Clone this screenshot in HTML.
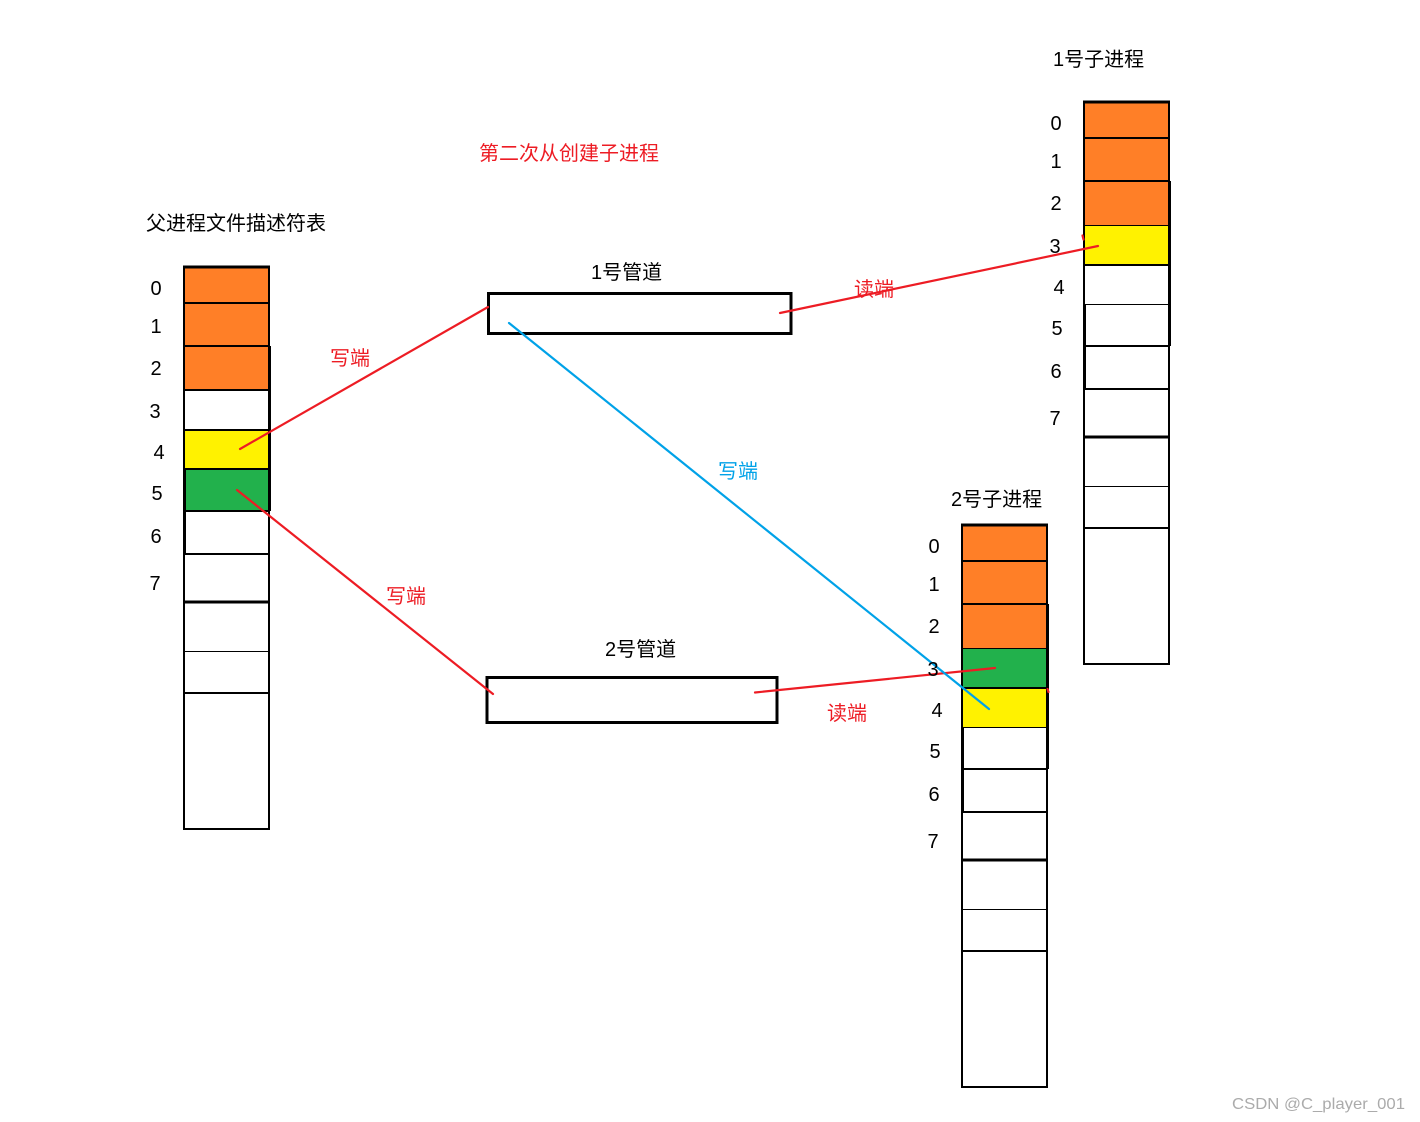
<!DOCTYPE html>
<html>
<head>
<meta charset="utf-8">
<style>
  html, body { margin: 0; padding: 0; background: #ffffff; }
  body { width: 1420px; height: 1122px; overflow: hidden; }
  svg { display: block; }
  .t { font-family: "Liberation Sans", "Noto Sans CJK SC", sans-serif; font-size: 20px; fill: #000; }
  .d { font-family: "Liberation Sans", "Noto Sans CJK SC", sans-serif; font-size: 20px; fill: #000; text-anchor: middle; }
  .r { fill: #ED1C24; }
  .b { fill: #00A2E8; }
</style>
</head>
<body>
<svg width="1420" height="1122" viewBox="0 0 1420 1122" xmlns="http://www.w3.org/2000/svg">
  <rect x="0" y="0" width="1420" height="1122" fill="#ffffff"/>

  <!-- ===== Left table (parent) ===== -->
  <g transform="translate(184,267)" shape-rendering="crispEdges">
    <rect x="0" y="0" width="85" height="36" fill="#FF7F27"/>
    <rect x="0" y="36" width="85" height="43" fill="#FF7F27"/>
    <rect x="0" y="79" width="85" height="44" fill="#FF7F27"/>
    <rect x="0" y="163" width="85" height="39" fill="#FFF200"/>
    <rect x="0" y="202" width="85" height="42" fill="#22B14C"/>
    <g stroke="#000" stroke-width="2">
      <line x1="0" y1="36" x2="85" y2="36"/>
      <line x1="0" y1="79" x2="86" y2="79"/>
      <line x1="0" y1="123" x2="85" y2="123"/>
      <line x1="0" y1="163" x2="85" y2="163"/>
      <line x1="0" y1="202" x2="86" y2="202"/>
      <line x1="0" y1="244" x2="86" y2="244"/>
      <line x1="0" y1="287" x2="85" y2="287"/>
      <line x1="0" y1="426" x2="85" y2="426"/>
      <line x1="86" y1="79" x2="86" y2="244"/>
    </g>
    <line x1="1.5" y1="202" x2="1.5" y2="287" stroke="#000" stroke-width="1"/>
    <line x1="0" y1="335" x2="85" y2="335" stroke="#000" stroke-width="3"/>
    <line x1="0" y1="384.5" x2="85" y2="384.5" stroke="#000" stroke-width="1"/>
    <rect x="0" y="0" width="85" height="562" fill="none" stroke="#000" stroke-width="2"/>
    <line x1="-1" y1="0" x2="86" y2="0" stroke="#000" stroke-width="3"/>
  </g>

  <!-- ===== Table 1号子进程 ===== -->
  <g transform="translate(1084,102)" shape-rendering="crispEdges">
    <rect x="0" y="0" width="85" height="36" fill="#FF7F27"/>
    <rect x="0" y="36" width="85" height="43" fill="#FF7F27"/>
    <rect x="0" y="79" width="85" height="44" fill="#FF7F27"/>
    <rect x="0" y="123" width="85" height="40" fill="#FFF200"/>
    <g stroke="#000" stroke-width="2">
      <line x1="0" y1="36" x2="85" y2="36"/>
      <line x1="0" y1="79" x2="86" y2="79"/>
      <line x1="0" y1="163" x2="86" y2="163"/>
      <line x1="0" y1="244" x2="86" y2="244"/>
      <line x1="0" y1="287" x2="85" y2="287"/>
      <line x1="0" y1="426" x2="85" y2="426"/>
      <line x1="86" y1="79" x2="86" y2="244"/>
    </g>
    <line x1="1.5" y1="202" x2="1.5" y2="287" stroke="#000" stroke-width="1"/>
    <line x1="0" y1="123.5" x2="85" y2="123.5" stroke="#000" stroke-width="1"/>
    <line x1="0" y1="202.5" x2="85" y2="202.5" stroke="#000" stroke-width="1"/>
    <line x1="0" y1="335" x2="85" y2="335" stroke="#000" stroke-width="3"/>
    <line x1="0" y1="384.5" x2="85" y2="384.5" stroke="#000" stroke-width="1"/>
    <rect x="0" y="0" width="85" height="562" fill="none" stroke="#000" stroke-width="2"/>
    <line x1="-1" y1="0" x2="86" y2="0" stroke="#000" stroke-width="3"/>
  </g>

  <!-- ===== Table 2号子进程 ===== -->
  <g transform="translate(962,525)" shape-rendering="crispEdges">
    <rect x="0" y="0" width="85" height="36" fill="#FF7F27"/>
    <rect x="0" y="36" width="85" height="43" fill="#FF7F27"/>
    <rect x="0" y="79" width="85" height="44" fill="#FF7F27"/>
    <rect x="0" y="123" width="85" height="40" fill="#22B14C"/>
    <rect x="0" y="163" width="85" height="39" fill="#FFF200"/>
    <g stroke="#000" stroke-width="2">
      <line x1="0" y1="36" x2="85" y2="36"/>
      <line x1="0" y1="79" x2="86" y2="79"/>
      <line x1="0" y1="163" x2="86" y2="163"/>
      <line x1="0" y1="244" x2="86" y2="244"/>
      <line x1="0" y1="287" x2="85" y2="287"/>
      <line x1="0" y1="426" x2="85" y2="426"/>
      <line x1="86" y1="79" x2="86" y2="244"/>
    </g>
    <line x1="1.5" y1="202" x2="1.5" y2="287" stroke="#000" stroke-width="1"/>
    <line x1="0" y1="123.5" x2="85" y2="123.5" stroke="#000" stroke-width="1"/>
    <line x1="0" y1="202.5" x2="85" y2="202.5" stroke="#000" stroke-width="1"/>
    <line x1="0" y1="335" x2="85" y2="335" stroke="#000" stroke-width="3"/>
    <line x1="0" y1="384.5" x2="85" y2="384.5" stroke="#000" stroke-width="1"/>
    <rect x="0" y="0" width="85" height="562" fill="none" stroke="#000" stroke-width="2"/>
    <line x1="-1" y1="0" x2="86" y2="0" stroke="#000" stroke-width="3"/>
  </g>

  <!-- ===== Pipes ===== -->
  <rect x="488.5" y="293.5" width="302.5" height="40" fill="none" stroke="#000" stroke-width="3" shape-rendering="crispEdges"/>
  <rect x="487" y="677.5" width="290" height="45" fill="none" stroke="#000" stroke-width="3" shape-rendering="crispEdges"/>

  <!-- ===== Connectors ===== -->
  <g stroke-width="2.2" stroke-linecap="round" fill="none">
    <line x1="240" y1="449" x2="488" y2="307" stroke="#ED1C24"/>
    <line x1="780" y1="313" x2="1098" y2="246" stroke="#ED1C24"/>
    <line x1="1082.5" y1="235.5" x2="1083.5" y2="239.5" stroke="#ED1C24"/>
    <line x1="237" y1="490" x2="493" y2="694" stroke="#ED1C24"/>
    <line x1="755" y1="692.5" x2="995" y2="668" stroke="#ED1C24"/>
    <line x1="1047.5" y1="689" x2="1048.5" y2="692" stroke="#ED1C24"/>
    <line x1="509" y1="323" x2="989" y2="709" stroke="#00A2E8"/>
  </g>

  <!-- ===== Titles / labels ===== -->
  <text class="t r" x="479" y="160">第二次从创建子进程</text>
  <text class="t" x="146" y="230">父进程文件描述符表</text>
  <text class="t" x="1053" y="66">1号子进程</text>
  <text class="t" x="951" y="506">2号子进程</text>
  <text class="t" x="591" y="279">1号管道</text>
  <text class="t" x="605" y="656">2号管道</text>

  <text class="t r" x="330" y="365">写端</text>
  <text class="t r" x="854" y="296">读端</text>
  <text class="t b" x="718" y="478">写端</text>
  <text class="t r" x="386" y="603">写端</text>
  <text class="t r" x="827" y="720">读端</text>

  <!-- ===== Index digits: left table ===== -->
  <g class="d">
    <text x="156" y="295">0</text>
    <text x="156" y="333">1</text>
    <text x="156" y="375">2</text>
    <text x="155" y="418">3</text>
    <text x="159" y="459">4</text>
    <text x="157" y="500">5</text>
    <text x="156" y="543">6</text>
    <text x="155" y="590">7</text>
  </g>
  <!-- table 1 -->
  <g class="d">
    <text x="1056" y="130">0</text>
    <text x="1056" y="168">1</text>
    <text x="1056" y="210">2</text>
    <text x="1055" y="253">3</text>
    <text x="1059" y="294">4</text>
    <text x="1057" y="335">5</text>
    <text x="1056" y="378">6</text>
    <text x="1055" y="425">7</text>
  </g>
  <!-- table 2 -->
  <g class="d">
    <text x="934" y="553">0</text>
    <text x="934" y="591">1</text>
    <text x="934" y="633">2</text>
    <text x="933" y="676">3</text>
    <text x="937" y="717">4</text>
    <text x="935" y="758">5</text>
    <text x="934" y="801">6</text>
    <text x="933" y="848">7</text>
  </g>

  <!-- watermark -->
  <text x="1232" y="1109" font-family="Liberation Sans, sans-serif" font-size="16" fill="#ababab" textLength="173" lengthAdjust="spacingAndGlyphs">CSDN @C_player_001</text>
</svg>
</body>
</html>
